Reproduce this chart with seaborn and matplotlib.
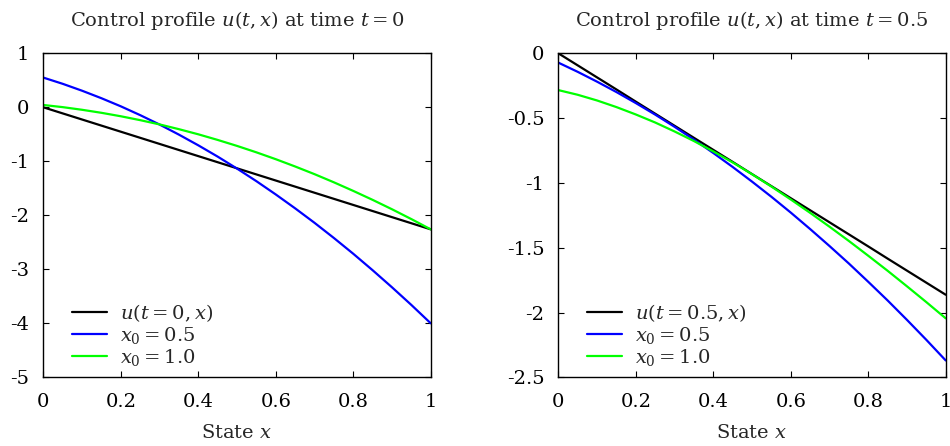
import matplotlib
matplotlib.use("Agg")
import matplotlib.pyplot as plt
import seaborn as sns
import pandas as pd

# Sample points of the state variable
x_state = [0.00, 0.05, 0.10, 0.15, 0.20, 0.25, 0.30, 0.35, 0.40, 0.45, 0.50,
           0.55, 0.60, 0.65, 0.70, 0.75, 0.80, 0.85, 0.90, 0.95, 1.00]

# Control profiles at t = 0
u_t0_exact = [0.0, -0.113, -0.226, -0.339, -0.452, -0.565, -0.678, -0.791, -0.904, -1.017, -1.13,
              -1.243, -1.356, -1.469, -1.582, -1.695, -1.808, -1.921, -2.034, -2.147, -2.26]
u_t0_x05 = [0.55, 0.435, 0.307, 0.168, 0.018, -0.145, -0.319, -0.506, -0.704, -0.913, -1.135,
            -1.368, -1.614, -1.871, -2.139, -2.420, -2.712, -3.017, -3.333, -3.660, -4.0]
u_t0_x10 = [0.043, 0.003, -0.046, -0.102, -0.166, -0.238, -0.317, -0.405, -0.500, -0.604, -0.715,
            -0.834, -0.961, -1.096, -1.238, -1.389, -1.548, -1.714, -1.888, -2.070, -2.26]

# Control profiles at t = 0.5
u_t05_exact = [0.0, -0.093, -0.186, -0.279, -0.373, -0.466, -0.559, -0.652, -0.745, -0.838, -0.932,
               -1.025, -1.118, -1.211, -1.304, -1.397, -1.490, -1.584, -1.677, -1.770, -1.863]
u_t05_x05 = [-0.072, -0.143, -0.219, -0.299, -0.384, -0.473, -0.567, -0.666, -0.769, -0.877, -0.990,
             -1.107, -1.229, -1.356, -1.487, -1.622, -1.763, -1.907, -2.057, -2.211, -2.37]
u_t05_x10 = [-0.284, -0.320, -0.364, -0.415, -0.472, -0.534, -0.603, -0.677, -0.757, -0.842, -0.933,
             -1.028, -1.128, -1.231, -1.338, -1.448, -1.562, -1.678, -1.798, -1.920, -2.045]

titles = [r"Control profile $u(t,x)$ at time $t=0$",
          r"Control profile $u(t,x)$ at time $t=0.5$"]
legend_exact = [r"$u(t=0,x)$", r"$u(t=0.5,x)$"]
legend_x05 = r"$x_0=0.5$"
legend_x10 = r"$x_0=1.0$"
xlabel = r"State $x$"

xticks = [0.0, 0.2, 0.4, 0.6, 0.8, 1.0]
xtick_labels = ["0", "0.2", "0.4", "0.6", "0.8", "1"]
yticks_left = [1, 0, -1, -2, -3, -4, -5]
ytick_labels_left = ["1", "0", "-1", "-2", "-3", "-4", "-5"]
yticks_right = [0, -0.5, -1, -1.5, -2, -2.5]
ytick_labels_right = ["0", "-0.5", "-1", "-1.5", "-2", "-2.5"]

FS = 14

sns.set_theme(style="ticks")
plt.rcParams["font.family"] = ["DejaVu Serif"]
plt.rcParams["mathtext.fontset"] = "dejavuserif"
plt.rcParams["axes.unicode_minus"] = False

fig = plt.figure(figsize=(9.5, 4.46), dpi=100)
ax_l = fig.add_axes([0.0456, 0.154, 0.4078, 0.7265])
ax_r = fig.add_axes([0.5877, 0.154, 0.4078, 0.7265])

panels = [
    (ax_l, u_t0_exact, u_t0_x05, u_t0_x10, (-5, 1), yticks_left, ytick_labels_left),
    (ax_r, u_t05_exact, u_t05_x05, u_t05_x10, (-2.5, 0), yticks_right, ytick_labels_right),
]

for i, (ax, ex, a05, a10, ylim, yt, ytl) in enumerate(panels):
    df = pd.DataFrame({"x": x_state, "exact": ex, "x05": a05, "x10": a10})
    sns.lineplot(data=df, x="x", y="exact", color="black", lw=1.6,
                 label=legend_exact[i], ax=ax)
    sns.lineplot(data=df, x="x", y="x05", color="#0000ff", lw=1.6,
                 label=legend_x05, ax=ax)
    sns.lineplot(data=df, x="x", y="x10", color="#00ff00", lw=1.6,
                 label=legend_x10, ax=ax)
    ax.set_xlim(0, 1)
    ax.set_ylim(*ylim)
    ax.set_xticks(xticks)
    ax.set_xticklabels(xtick_labels)
    ax.set_yticks(yt)
    ax.set_yticklabels(ytl)
    ax.tick_params(axis="both", direction="in", length=4.5, width=0.8,
                   top=True, right=True, labelsize=FS, colors="black")
    ax.tick_params(axis="x", pad=11)
    ax.tick_params(axis="y", pad=10)
    for s in ax.spines.values():
        s.set_visible(True)
        s.set_linewidth(1.0)
        s.set_color("black")
    ax.set_xlabel(xlabel, fontsize=FS, labelpad=10)
    ax.set_ylabel("")
    ax.set_title(titles[i], fontsize=FS, pad=19.5)
    ax.legend(loc="lower left", bbox_to_anchor=(0.074, 0.03), frameon=False,
              fontsize=FS, handlelength=1.8, handletextpad=0.65,
              labelspacing=0.05, borderpad=0, borderaxespad=0)

fig.savefig("out.png", dpi=100)
